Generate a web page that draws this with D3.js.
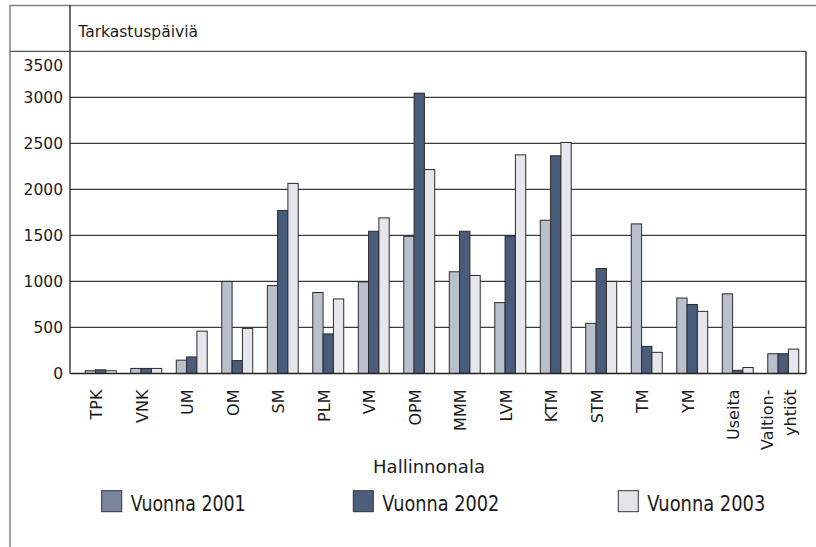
<!DOCTYPE html>
<html lang="fi">
<head>
  <meta charset="UTF-8" />
  <title>Tarkastuspäiviä</title>
  <script src="https://d3js.org/d3.v7.min.js"></script>
  <style>
    body { margin: 0; background: #fff; }
    svg { display: block; font-family: "DejaVu Sans", sans-serif; }
  </style>
</head>
<body>
  <svg id="chart" width="816" height="547"></svg>

  <script>
    // data
    const categories = ["TPK", "VNK", "UM", "OM", "SM", "PLM", "VM", "OPM", "MMM", "LVM", "KTM", "STM", "TM", "YM", "Useita", "Valtion-\nyhtiöt"];
    const v2001 = [30, 55, 145, 1000, 955, 880, 995, 1490, 1105, 770, 1665, 545, 1625, 820, 865, 215];
    const v2002 = [40, 55, 180, 140, 1770, 430, 1545, 3045, 1545, 1495, 2365, 1140, 295, 750, 35, 215];
    const v2003 = [30, 55, 460, 490, 2065, 810, 1690, 2215, 1065, 2375, 2510, 1000, 230, 675, 65, 265];
    const seriesNames = ["Vuonna 2001", "Vuonna 2002", "Vuonna 2003"];
    const yTicks = [0, 500, 1000, 1500, 2000, 2500, 3000, 3500];

    const barColors = ["#b9c0cd", "#495d7b", "#e6e7ec"];
    const legendColors = ["#7b869e", "#4b5e7d", "#e4e5ea"];

    const svg = d3.select("#chart");

    const plotLeft = 70, plotRight = 806, plotTop = 51.3, plotBottom = 373.5;

    const x = d3.scaleBand()
      .domain(categories)
      .range([78, plotRight])
      .paddingInner(0.32)
      .paddingOuter(0.16);

    const xSub = d3.scaleBand()
      .domain(seriesNames)
      .range([0, x.bandwidth()]);

    const y = d3.scaleLinear()
      .domain([0, 3500])
      .range([plotBottom, plotTop]);

    // outer frame
    svg.append("line").attr("x1", 10).attr("x2", 816).attr("y1", 5.5).attr("y2", 5.5)
      .attr("stroke", "#808080").attr("stroke-width", 1.5);
    svg.append("line").attr("x1", 10).attr("x2", 10).attr("y1", 5).attr("y2", 547)
      .attr("stroke", "#808080").attr("stroke-width", 1.5);
    svg.append("line").attr("x1", 10).attr("x2", plotRight).attr("y1", plotTop).attr("y2", plotTop)
      .attr("stroke", "#555").attr("stroke-width", 1.3);

    // gridlines
    svg.append("g")
      .selectAll("line")
      .data(yTicks.filter(d => d > 0 && d < 3500))
      .join("line")
      .attr("x1", plotLeft)
      .attr("x2", plotRight)
      .attr("y1", d => y(d))
      .attr("y2", d => y(d))
      .attr("stroke", "#3c3c3c")
      .attr("stroke-width", 1.2);

    // bars
    const rows = categories.map((c, i) => ({ cat: c, vals: [v2001[i], v2002[i], v2003[i]] }));
    const groups = svg.append("g")
      .selectAll("g")
      .data(rows)
      .join("g")
      .attr("transform", d => `translate(${x(d.cat)},0)`);

    groups.selectAll("rect")
      .data(d => d.vals.map((v, k) => ({ key: seriesNames[k], v, k })))
      .join("rect")
      .attr("x", d => xSub(d.key))
      .attr("width", xSub.bandwidth())
      .attr("y", d => y(d.v))
      .attr("height", d => y(0) - y(d.v))
      .attr("fill", d => barColors[d.k])
      .attr("stroke", "#2b2b2b")
      .attr("stroke-width", 1);

    // plot borders
    svg.append("line").attr("x1", plotLeft).attr("x2", plotLeft).attr("y1", 5).attr("y2", plotBottom)
      .attr("stroke", "#222").attr("stroke-width", 1.3);
    svg.append("line").attr("x1", plotRight).attr("x2", plotRight).attr("y1", plotTop).attr("y2", plotBottom)
      .attr("stroke", "#222").attr("stroke-width", 1.3);
    svg.append("line").attr("x1", plotLeft).attr("x2", plotRight).attr("y1", plotBottom).attr("y2", plotBottom)
      .attr("stroke", "#222").attr("stroke-width", 1.3);

    // y axis labels
    const yAxis = svg.append("g")
      .attr("transform", `translate(${plotLeft},0)`)
      .call(d3.axisLeft(y).tickValues(yTicks).tickFormat(d3.format("d")).tickSize(0).tickPadding(7));
    yAxis.select(".domain").remove();
    yAxis.selectAll("text")
      .attr("font-family", "DejaVu Sans")
      .attr("font-size", 15.5)
      .attr("fill", "#1a1a1a")
      .attr("dy", d => d === 3500 ? "1.25em" : "0.35em");

    // x axis labels (rotated)
    const xAxis = svg.append("g")
      .attr("transform", `translate(-4,${plotBottom})`)
      .call(d3.axisBottom(x).tickSize(0));
    xAxis.select(".domain").remove();
    xAxis.selectAll("text")
      .attr("font-family", "DejaVu Sans")
      .attr("font-size", 16)
      .attr("fill", "#1a1a1a")
      .attr("transform", "rotate(-90)")
      .attr("text-anchor", "end")
      .attr("x", -16)
      .attr("y", 0)
      .attr("dy", "0.35em")
      .each(function (d) {
        const lines = d.split("\n");
        if (lines.length < 2) return;
        const t = d3.select(this).text(null).attr("dy", null);
        lines.forEach((ln, i) => {
          t.append("tspan")
            .attr("x", -16)
            .attr("dy", i === 0 ? "-0.4em" : "1.45em")
            .text(ln);
        });
      });

    // titles
    svg.append("text")
      .attr("x", 78.3)
      .attr("y", 37.3)
      .attr("font-size", 15.5)
      .attr("fill", "#1a1a1a")
      .text("Tarkastuspäiviä");

    svg.append("text")
      .attr("x", 429)
      .attr("y", 473.3)
      .attr("text-anchor", "middle")
      .attr("font-size", 18)
      .attr("fill", "#1a1a1a")
      .text("Hallinnonala");

    // legend
    const legendX = [101.7, 353.3, 618.3];
    const legendW = [115, 117, 118];
    const legend = svg.append("g")
      .selectAll("g")
      .data(seriesNames)
      .join("g")
      .attr("transform", (d, i) => `translate(${legendX[i]},490.7)`);

    legend.append("rect")
      .attr("width", 20)
      .attr("height", 21)
      .attr("fill", (d, i) => legendColors[i])
      .attr("stroke", "#333")
      .attr("stroke-width", 1);

    legend.append("text")
      .attr("x", 29)
      .attr("y", 20)
      .attr("font-size", 22)
      .attr("fill", "#1a1a1a")
      .attr("textLength", (d, i) => legendW[i])
      .attr("lengthAdjust", "spacingAndGlyphs")
      .text(d => d);
  </script>
</body>
</html>
